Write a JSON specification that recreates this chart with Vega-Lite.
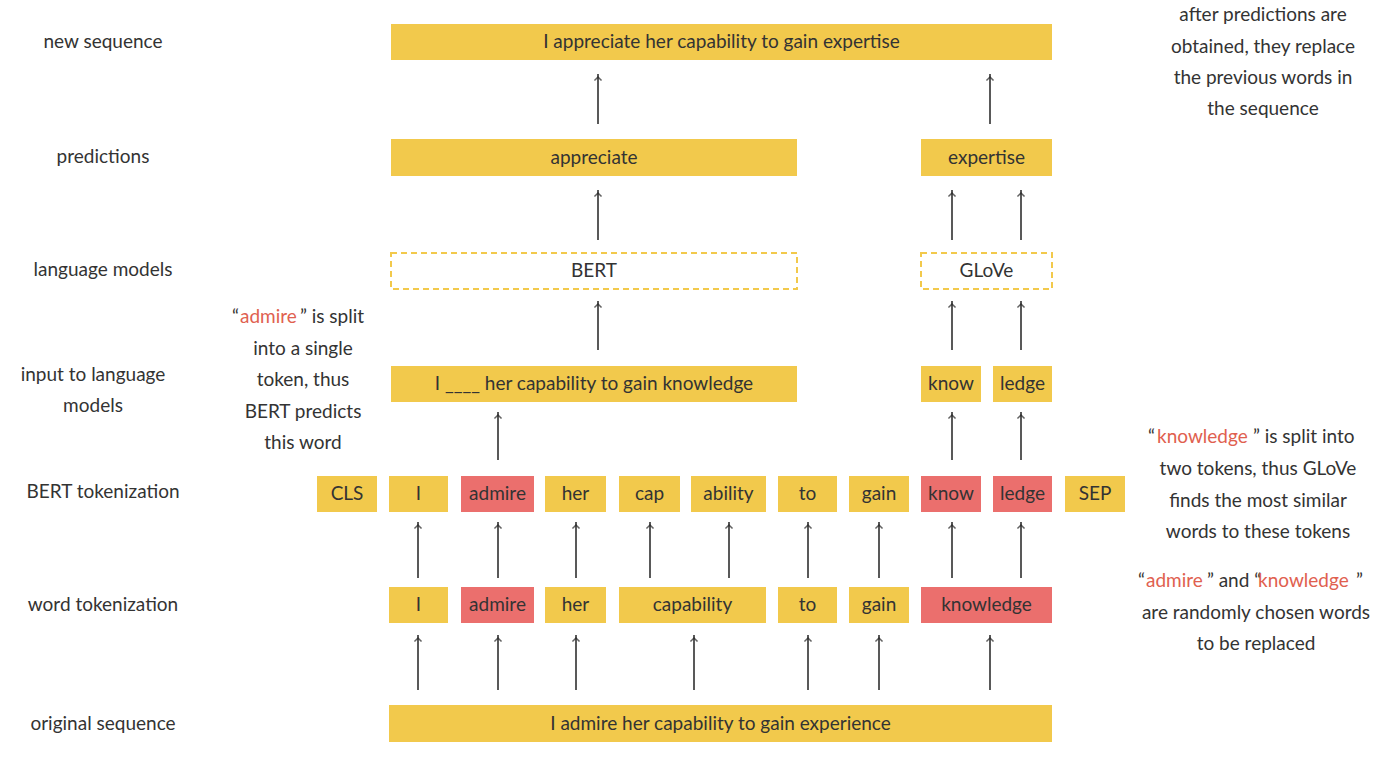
{
  "$schema": "https://vega.github.io/schema/vega-lite/v6.json",
  "width": 1400,
  "height": 758,
  "padding": 0,
  "autosize": "none",
  "background": "white",
  "config": {"view": {"stroke": null}, "font": "Lato"},
  "layer": [
    {
      "data": {"values": [
        {"x1": 391, "x2": 1052, "y1": 24, "y2": 60, "kind": "kept", "label": "I appreciate her capability to gain expertise"},
        {"x1": 391, "x2": 797, "y1": 139, "y2": 176, "kind": "kept", "label": "appreciate"},
        {"x1": 921, "x2": 1052, "y1": 139, "y2": 176, "kind": "kept", "label": "expertise"},
        {"x1": 391, "x2": 797, "y1": 366, "y2": 402, "kind": "kept", "label": "I ____ her capability to gain knowledge"},
        {"x1": 921, "x2": 981, "y1": 366, "y2": 402, "kind": "kept", "label": "know"},
        {"x1": 993, "x2": 1052, "y1": 366, "y2": 402, "kind": "kept", "label": "ledge"},
        {"x1": 317, "x2": 377, "y1": 476, "y2": 512, "kind": "kept", "label": "CLS"},
        {"x1": 389, "x2": 448, "y1": 476, "y2": 512, "kind": "kept", "label": "I"},
        {"x1": 461, "x2": 534, "y1": 476, "y2": 512, "kind": "masked", "label": "admire"},
        {"x1": 545, "x2": 606, "y1": 476, "y2": 512, "kind": "kept", "label": "her"},
        {"x1": 619, "x2": 680, "y1": 476, "y2": 512, "kind": "kept", "label": "cap"},
        {"x1": 691, "x2": 766, "y1": 476, "y2": 512, "kind": "kept", "label": "ability"},
        {"x1": 778, "x2": 837, "y1": 476, "y2": 512, "kind": "kept", "label": "to"},
        {"x1": 849, "x2": 909, "y1": 476, "y2": 512, "kind": "kept", "label": "gain"},
        {"x1": 921, "x2": 981, "y1": 476, "y2": 512, "kind": "masked", "label": "know"},
        {"x1": 993, "x2": 1052, "y1": 476, "y2": 512, "kind": "masked", "label": "ledge"},
        {"x1": 1065, "x2": 1125, "y1": 476, "y2": 512, "kind": "kept", "label": "SEP"},
        {"x1": 389, "x2": 448, "y1": 587, "y2": 623, "kind": "kept", "label": "I"},
        {"x1": 461, "x2": 534, "y1": 587, "y2": 623, "kind": "masked", "label": "admire"},
        {"x1": 545, "x2": 606, "y1": 587, "y2": 623, "kind": "kept", "label": "her"},
        {"x1": 619, "x2": 766, "y1": 587, "y2": 623, "kind": "kept", "label": "capability"},
        {"x1": 778, "x2": 837, "y1": 587, "y2": 623, "kind": "kept", "label": "to"},
        {"x1": 849, "x2": 909, "y1": 587, "y2": 623, "kind": "kept", "label": "gain"},
        {"x1": 921, "x2": 1052, "y1": 587, "y2": 623, "kind": "masked", "label": "knowledge"},
        {"x1": 389, "x2": 1052, "y1": 705, "y2": 742, "kind": "kept", "label": "I admire her capability to gain experience"}
      ]},
      "layer": [
        {
          "mark": {"type": "rect"},
          "encoding": {
            "x": {"field": "x1", "type": "quantitative", "scale": {"domain": [0, 1400], "zero": false, "nice": false}, "axis": null},
            "x2": {"field": "x2"},
            "y": {"field": "y1", "type": "quantitative", "scale": {"domain": [0, 758], "reverse": true, "zero": false, "nice": false}, "axis": null},
            "y2": {"field": "y2"},
            "fill": {"field": "kind", "type": "nominal", "scale": {"domain": ["kept", "masked"], "range": ["#F2C94C", "#EB6F6D"]}, "legend": null}
          }
        },
        {
          "transform": [{"calculate": "(datum.x1 + datum.x2) / 2", "as": "xc"}, {"calculate": "(datum.y1 + datum.y2) / 2", "as": "yc"}],
          "mark": {"type": "text", "fontSize": 19, "color": "#333333", "baseline": "middle"},
          "encoding": {
            "x": {"field": "xc", "type": "quantitative"},
            "y": {"field": "yc", "type": "quantitative"},
            "text": {"field": "label"}
          }
        }
      ]
    },
    {
      "data": {"values": [
        {"x1": 391, "x2": 797, "y1": 253, "y2": 289, "label": "BERT"},
        {"x1": 921, "x2": 1052, "y1": 253, "y2": 289, "label": "GLoVe"}
      ]},
      "layer": [
        {
          "mark": {"type": "rect", "fill": null, "stroke": "#F2C94C", "strokeWidth": 2, "strokeDash": [6, 4]},
          "encoding": {
            "x": {"field": "x1", "type": "quantitative"},
            "x2": {"field": "x2"},
            "y": {"field": "y1", "type": "quantitative"},
            "y2": {"field": "y2"}
          }
        },
        {
          "transform": [{"calculate": "(datum.x1 + datum.x2) / 2", "as": "xc"}, {"calculate": "(datum.y1 + datum.y2) / 2", "as": "yc"}],
          "mark": {"type": "text", "fontSize": 19, "color": "#333333", "baseline": "middle"},
          "encoding": {
            "x": {"field": "xc", "type": "quantitative"},
            "y": {"field": "yc", "type": "quantitative"},
            "text": {"field": "label"}
          }
        }
      ]
    },
    {
      "data": {"values": [
        {"x": 418, "top": 522, "bottom": 578}, {"x": 498, "top": 522, "bottom": 578}, {"x": 576, "top": 522, "bottom": 578},
        {"x": 650, "top": 522, "bottom": 578}, {"x": 729, "top": 522, "bottom": 578}, {"x": 808, "top": 522, "bottom": 578},
        {"x": 879, "top": 522, "bottom": 578}, {"x": 952, "top": 522, "bottom": 578}, {"x": 1021, "top": 522, "bottom": 578},
        {"x": 418, "top": 635, "bottom": 690}, {"x": 498, "top": 635, "bottom": 690}, {"x": 576, "top": 635, "bottom": 690},
        {"x": 694, "top": 635, "bottom": 690}, {"x": 808, "top": 635, "bottom": 690}, {"x": 879, "top": 635, "bottom": 690},
        {"x": 990, "top": 635, "bottom": 690},
        {"x": 498, "top": 412, "bottom": 460}, {"x": 952, "top": 412, "bottom": 460}, {"x": 1021, "top": 412, "bottom": 460},
        {"x": 598, "top": 301, "bottom": 350}, {"x": 952, "top": 301, "bottom": 350}, {"x": 1021, "top": 301, "bottom": 350},
        {"x": 598, "top": 190, "bottom": 240}, {"x": 952, "top": 190, "bottom": 240}, {"x": 1021, "top": 190, "bottom": 240},
        {"x": 598, "top": 74, "bottom": 124}, {"x": 990, "top": 74, "bottom": 124}
      ]},
      "layer": [
        {
          "mark": {"type": "rule", "color": "#222222", "strokeWidth": 1.5},
          "encoding": {
            "x": {"field": "x", "type": "quantitative"},
            "y": {"field": "top", "type": "quantitative"},
            "y2": {"field": "bottom"}
          }
        },
        {
          "mark": {"type": "point", "shape": "M-1,1L0,0L1,1", "filled": false, "stroke": "#222222", "strokeWidth": 1.5, "size": 50, "yOffset": 3},
          "encoding": {
            "x": {"field": "x", "type": "quantitative"},
            "y": {"field": "top", "type": "quantitative"}
          }
        }
      ]
    },
    {
      "data": {"values": [
        {"x": 103, "y": 42, "t": "new sequence"},
        {"x": 103, "y": 157, "t": "predictions"},
        {"x": 103, "y": 270, "t": "language models"},
        {"x": 93, "y": 375, "t": "input to language"},
        {"x": 93, "y": 406, "t": "models"},
        {"x": 103, "y": 492, "t": "BERT tokenization"},
        {"x": 103, "y": 605, "t": "word tokenization"},
        {"x": 103, "y": 724, "t": "original sequence"},
        {"x": 303, "y": 349, "t": "into a single"},
        {"x": 303, "y": 380, "t": "token, thus"},
        {"x": 303, "y": 412, "t": "BERT predicts"},
        {"x": 303, "y": 443, "t": "this word"},
        {"x": 1263, "y": 15, "t": "after predictions are"},
        {"x": 1263, "y": 47, "t": "obtained, they replace"},
        {"x": 1263, "y": 78, "t": "the previous words in"},
        {"x": 1263, "y": 109, "t": "the sequence"},
        {"x": 1258, "y": 469, "t": "two tokens, thus GLoVe"},
        {"x": 1258, "y": 501, "t": "finds the most similar"},
        {"x": 1258, "y": 532, "t": "words to these tokens"},
        {"x": 1256, "y": 613, "t": "are randomly chosen words"},
        {"x": 1256, "y": 644, "t": "to be replaced"}
      ]},
      "mark": {"type": "text", "fontSize": 19, "color": "#333333", "baseline": "middle"},
      "encoding": {
        "x": {"field": "x", "type": "quantitative"},
        "y": {"field": "y", "type": "quantitative"},
        "text": {"field": "t"}
      }
    },
    {
      "data": {"values": [
        {"x": 232, "y": 317, "t": "“", "hl": false},
        {"x": 240, "y": 317, "t": "admire", "hl": true},
        {"x": 300, "y": 317, "t": "” is split", "hl": false},
        {"x": 1148, "y": 437, "t": "“", "hl": false},
        {"x": 1157, "y": 437, "t": "knowledge", "hl": true},
        {"x": 1253, "y": 437, "t": "” is split into", "hl": false},
        {"x": 1138, "y": 581, "t": "“", "hl": false},
        {"x": 1146, "y": 581, "t": "admire", "hl": true},
        {"x": 1207, "y": 581, "t": "” and “", "hl": false},
        {"x": 1258, "y": 581, "t": "knowledge", "hl": true},
        {"x": 1356, "y": 581, "t": "”", "hl": false}
      ]},
      "mark": {"type": "text", "fontSize": 19, "align": "left", "baseline": "middle"},
      "encoding": {
        "x": {"field": "x", "type": "quantitative"},
        "y": {"field": "y", "type": "quantitative"},
        "text": {"field": "t"},
        "color": {"field": "hl", "type": "nominal", "scale": {"domain": [false, true], "range": ["#333333", "#E0604F"]}, "legend": null}
      }
    }
  ]
}
